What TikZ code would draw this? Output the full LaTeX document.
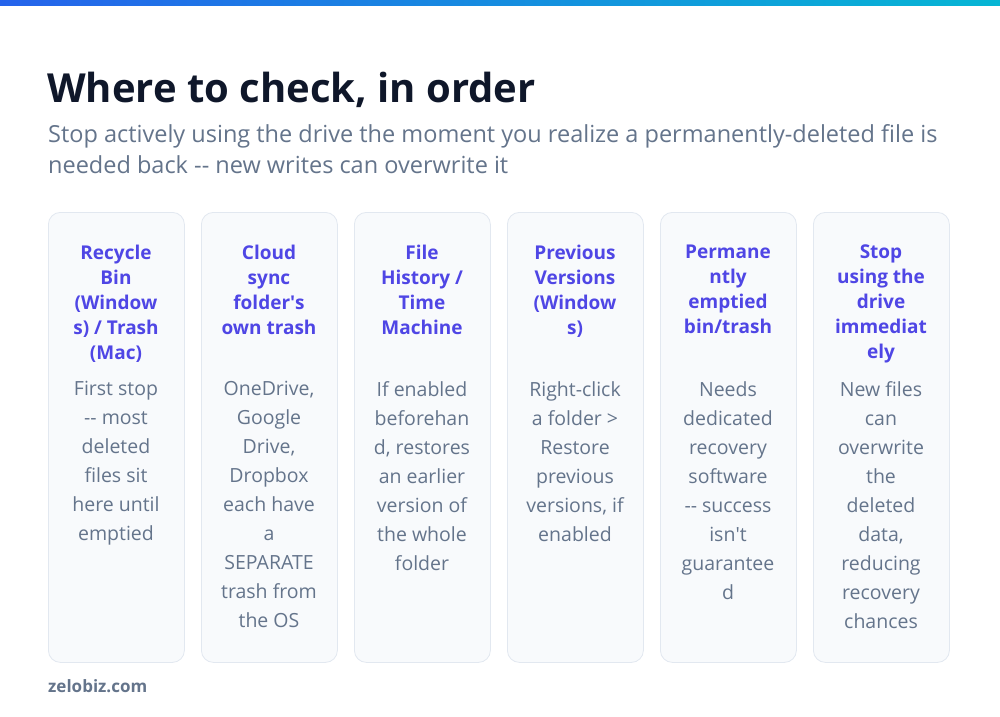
\documentclass[tikz,border=0pt]{standalone}
\usepackage{fontspec}
\setmainfont{Open Sans}
\usetikzlibrary{positioning}
\definecolor{inkdark}{HTML}{0F172A}
\definecolor{inkgray}{HTML}{64748B}
\definecolor{inkblue}{HTML}{4F46E5}
\definecolor{cardfill}{HTML}{F8FAFC}
\definecolor{cardline}{HTML}{E2E8F0}
\definecolor{barleft}{HTML}{2563EB}
\definecolor{barright}{HTML}{06B6D4}
\newcommand{\dd}{-{}-}
\newcommand{\apos}{\textquotesingle}
\tikzset{
  card/.style={draw=cardline, fill=cardfill, rounded corners=12pt, line width=0.8pt,
    minimum width=136pt, minimum height=450pt, anchor=north west, inner sep=0pt},
  cardhead/.style={text=inkblue, font=\fontsize{19}{25}\selectfont\bfseries,
    align=center, anchor=north, inner sep=0pt},
  cardbody/.style={text=inkgray, font=\fontsize{19.5}{29}\selectfont,
    align=center, anchor=north, inner sep=0pt}
}
\begin{document}
\begin{tikzpicture}[x=1pt, y=-1pt]
    \useasboundingbox (0,0) rectangle (1000,716);
    \fill[white] (0,0) rectangle (1000,716);
    \shade[left color=barleft, right color=barright] (0,0) rectangle (1000,5);

    % Heading
    \node[anchor=west, inner sep=0pt, text=inkdark, font=\fontsize{40}{48}\selectfont\bfseries]
      (title) at (47,90) {Where to check, in order};
    \node[anchor=north west, inner sep=0pt, text=inkgray, align=left,
      font=\fontsize{23.5}{31}\selectfont] (subtitle) at (48,124)
      {Stop actively using the drive the moment you realize a permanently-deleted file is\\
       needed back \dd{} new writes can overwrite it};

    % Cards
    \foreach \i/\head/\body in {
      0/{Recycle\\Bin\\(Window\\s) / Trash\\(Mac)}/{First stop\\\dd{} most\\deleted\\files sit\\here until\\emptied},
      1/{Cloud\\sync\\folder\apos{}s\\own trash}/{OneDrive,\\Google\\Drive,\\Dropbox\\each have\\a\\SEPARATE\\trash from\\the OS},
      2/{File\\History /\\Time\\Machine}/{If enabled\\beforehan\\d, restores\\an earlier\\version of\\the whole\\folder},
      3/{Previous\\Versions\\(Window\\s)}/{Right-click\\a folder >\\Restore\\previous\\versions, if\\enabled},
      4/{Permane\\ntly\\emptied\\bin/trash}/{Needs\\dedicated\\recovery\\software\\\dd{} success\\isn\apos{}t\\guarantee\\d},
      5/{Stop\\using the\\drive\\immediat\\ely}/{New files\\can\\overwrite\\the\\deleted\\data,\\reducing\\recovery\\chances}} {
      \node[card] (card\i) at ({48+153*\i},212) {};
      \node[cardhead] (head\i) at ({116+153*\i},245) {\head};
      \node[cardbody] (body\i) at ({116+153*\i},381) {\body};
    }

    % Footer
    \node[anchor=west, inner sep=0pt, text=inkgray, font=\fontsize{17}{20}\selectfont\bfseries]
      (footer) at (48,686) {zelobiz.com};
\end{tikzpicture}
\end{document}
